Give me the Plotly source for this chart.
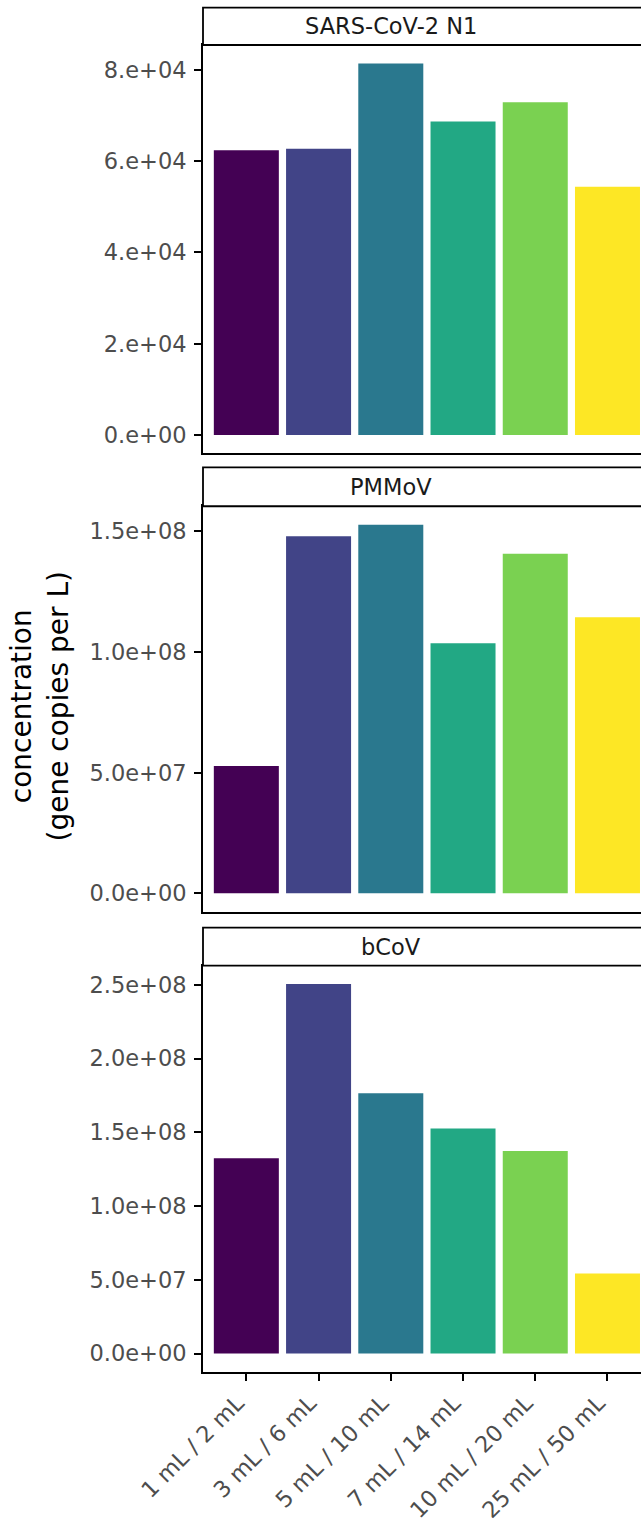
import plotly.graph_objects as go

categories = ["1 mL / 2 mL", "3 mL / 6 mL", "5 mL / 10 mL", "7 mL / 14 mL", "10 mL / 20 mL", "25 mL / 50 mL"]
colors = ["#440154", "#414487", "#2A788E", "#22A884", "#7AD151", "#FDE725"]

panel_titles = ["SARS-CoV-2 N1", "PMMoV", "bCoV"]
n1_values = [62400, 62700, 81400, 68700, 72900, 54400]
pmmov_values = [52.8e6, 148.0e6, 152.8e6, 103.7e6, 140.8e6, 114.4e6]
bcov_values = [132.3e6, 250.5e6, 176.5e6, 152.5e6, 137.3e6, 54.2e6]

n1_ticks = [0, 2e4, 4e4, 6e4, 8e4]
n1_ticktext = ["0.e+00", "2.e+04", "4.e+04", "6.e+04", "8.e+04"]
pmmov_ticks = [0, 5e7, 1e8, 1.5e8]
pmmov_ticktext = ["0.0e+00", "5.0e+07", "1.0e+08", "1.5e+08"]
bcov_ticks = [0, 5e7, 1e8, 1.5e8, 2e8, 2.5e8]
bcov_ticktext = ["0.0e+00", "5.0e+07", "1.0e+08", "1.5e+08", "2.0e+08", "2.5e+08"]

y_title = "concentration<br>(gene copies per L)"

W, H = 641, 1523
ML, MR, MT, MB = 203, 0, 45, 146
plot_h = H - MT - MB

def py(pix):
    return (H - MB - pix) / plot_h

# panel pixel extents (top, bottom) and strip top
panels = [(45, 455, 7.5), (508, 915, 469), (969, 1377, 931)]

FONT = "DejaVu Sans"
TICK_COLOR = "#4D4D4D"
LINE_W = 1.8
TICK_SIZE = 22.5

fig = go.Figure()
series = [n1_values, pmmov_values, bcov_values]
ticks = [(n1_ticks, n1_ticktext), (pmmov_ticks, pmmov_ticktext), (bcov_ticks, bcov_ticktext)]

shapes = []
annotations = []
for i, vals in enumerate(series):
    k = "" if i == 0 else str(i + 1)
    fig.add_trace(go.Bar(
        x=categories, y=vals, marker=dict(color=colors, line=dict(width=0)),
        xaxis="x" + k, yaxis="y" + k, showlegend=False, hoverinfo="x+y",
    ))
    top, bot, stop = panels[i]
    vmax = max(vals)
    fig.layout["xaxis" + k] = dict(
        domain=[0, 1], anchor="y" + k, type="category",
        categoryorder="array", categoryarray=categories,
        range=[-0.6, 5.464], showgrid=False, zeroline=False,
        showline=True, mirror=True, linecolor="black", linewidth=LINE_W,
        ticks="outside" if i == 2 else "", ticklen=7, tickwidth=LINE_W, tickcolor="black",
        showticklabels=(i == 2), tickangle=-45,
        tickfont=dict(family=FONT, size=TICK_SIZE, color=TICK_COLOR),
        ticklabelshift=-9, ticklabelstandoff=0,
        fixedrange=True,
    )
    fig.layout["yaxis" + k] = dict(
        domain=[py(bot), py(top)], anchor="x" + k,
        range=[-0.05 * vmax, 1.05 * vmax], showgrid=False, zeroline=False,
        showline=True, mirror=False, linecolor="black", linewidth=LINE_W,
        ticks="outside", ticklen=7, tickwidth=LINE_W, tickcolor="black",
        tickvals=ticks[i][0], ticktext=ticks[i][1],
        tickfont=dict(family=FONT, size=TICK_SIZE, color=TICK_COLOR),
        ticklabelstandoff=3,
        fixedrange=True,
    )
    # strip
    shapes.append(dict(type="rect", xref="paper", yref="paper",
                       x0=0, x1=1.05, y0=py(top), y1=py(stop),
                       line=dict(color="black", width=LINE_W), fillcolor="white", layer="above"))
    annotations.append(dict(text=panel_titles[i], xref="paper", yref="paper",
                            x=(391 - ML) / (W - ML - MR), y=(py(top) + py(stop)) / 2,
                            xanchor="center", yanchor="middle", showarrow=False,
                            font=dict(family=FONT, size=TICK_SIZE, color="#1A1A1A")))

annotations.append(dict(text=y_title, xref="paper", yref="paper",
                        x=(40 - ML) / (W - ML - MR), y=py(709),
                        xanchor="center", yanchor="middle", showarrow=False, textangle=-90,
                        font=dict(family=FONT, size=28, color="black")))

fig.update_layout(
    width=W, height=H,
    margin=dict(l=ML, r=MR, t=MT, b=MB, pad=0),
    paper_bgcolor="white", plot_bgcolor="white",
    bargap=0.1,
    shapes=shapes, annotations=annotations,
    font=dict(family=FONT),
)

fig.write_html("out.html", config={"displayModeBar": False},
               post_script="document.body.style.margin='0';")
